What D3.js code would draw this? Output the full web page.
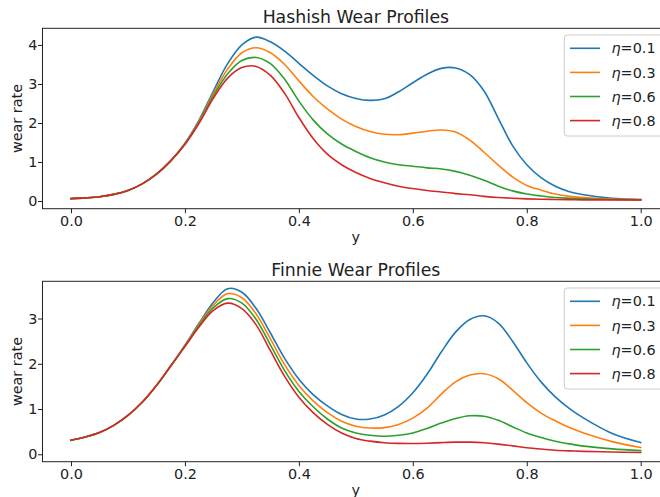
<!DOCTYPE html>
<html>
<head>
<meta charset="utf-8">
<script src="https://cdn.jsdelivr.net/npm/d3@7/dist/d3.min.js"></script>
<style>
  html, body { margin: 0; padding: 0; background: #fff; }
  svg { display: block; }
  text { font-family: "DejaVu Sans", sans-serif; fill: #222; }
</style>
</head>
<body>
<svg id="chart" width="660" height="497"></svg>
<script>
// Position along the profile
const ys = [0, 0.025, 0.05, 0.075, 0.1, 0.125, 0.15, 0.175, 0.2, 0.225, 0.25, 0.275,
  0.3, 0.325, 0.35, 0.375, 0.4, 0.425, 0.45, 0.475, 0.5, 0.525, 0.55, 0.575, 0.6,
  0.625, 0.65, 0.675, 0.7, 0.725, 0.75, 0.775, 0.8, 0.825, 0.85, 0.875, 0.9, 0.95, 1.0];

const etaLabels = ["0.1", "0.3", "0.6", "0.8"];
const colors = ["#1f77b4", "#ff7f0e", "#2ca02c", "#d62728"];
const xTicks = [0, 0.2, 0.4, 0.6, 0.8, 1.0];

// Hashish model wear rate, one array per eta
const hashish01 = [0.06, 0.08, 0.11, 0.17, 0.27, 0.44, 0.69, 1.03, 1.48, 2.08, 2.82, 3.52,
  4.00, 4.20, 4.08, 3.84, 3.53, 3.22, 2.95, 2.75, 2.63, 2.58, 2.62, 2.80, 3.03,
  3.25, 3.40, 3.41, 3.24, 2.82, 2.12, 1.42, 0.93, 0.60, 0.38, 0.24, 0.16, 0.07, 0.04];
const hashish03 = [0.06, 0.08, 0.11, 0.17, 0.27, 0.44, 0.69, 1.03, 1.47, 2.05, 2.76, 3.38,
  3.80, 3.93, 3.80, 3.50, 3.08, 2.68, 2.36, 2.10, 1.91, 1.78, 1.71, 1.70, 1.74,
  1.79, 1.82, 1.77, 1.56, 1.25, 0.92, 0.62, 0.40, 0.28, 0.18, 0.12, 0.09, 0.05, 0.035];
const hashish06 = [0.06, 0.08, 0.11, 0.17, 0.27, 0.44, 0.69, 1.03, 1.46, 2.02, 2.70, 3.26,
  3.60, 3.68, 3.52, 3.12, 2.56, 2.08, 1.72, 1.46, 1.27, 1.11, 1.00, 0.93, 0.89,
  0.85, 0.82, 0.76, 0.66, 0.53, 0.38, 0.26, 0.18, 0.13, 0.09, 0.07, 0.055, 0.04, 0.03];
const hashish08 = [0.06, 0.08, 0.11, 0.17, 0.27, 0.44, 0.69, 1.03, 1.45, 2.00, 2.64, 3.15,
  3.42, 3.45, 3.22, 2.76, 2.14, 1.60, 1.20, 0.93, 0.73, 0.58, 0.47, 0.38, 0.32,
  0.27, 0.23, 0.19, 0.16, 0.12, 0.09, 0.07, 0.055, 0.045, 0.04, 0.035, 0.03, 0.03, 0.025];

// Finnie model wear rate, one array per eta
const finnie01 = [0.31, 0.38, 0.48, 0.64, 0.86, 1.15, 1.52, 1.95, 2.41, 2.90, 3.36, 3.66,
  3.58, 3.22, 2.68, 2.12, 1.66, 1.32, 1.07, 0.88, 0.78, 0.78, 0.87, 1.06, 1.36,
  1.77, 2.26, 2.70, 2.98, 3.06, 2.90, 2.50, 2.02, 1.60, 1.27, 1.01, 0.80, 0.46, 0.26];
const finnie03 = [0.31, 0.38, 0.48, 0.64, 0.86, 1.15, 1.52, 1.95, 2.40, 2.88, 3.30, 3.55,
  3.46, 3.10, 2.55, 1.98, 1.52, 1.18, 0.92, 0.73, 0.62, 0.58, 0.59, 0.66, 0.80,
  1.02, 1.33, 1.60, 1.75, 1.78, 1.67, 1.42, 1.14, 0.91, 0.74, 0.59, 0.47, 0.28, 0.15];
const finnie06 = [0.31, 0.38, 0.48, 0.64, 0.86, 1.15, 1.52, 1.95, 2.39, 2.85, 3.24, 3.44,
  3.34, 2.98, 2.42, 1.85, 1.39, 1.05, 0.78, 0.58, 0.47, 0.42, 0.40, 0.42, 0.47,
  0.57, 0.69, 0.79, 0.85, 0.84, 0.75, 0.61, 0.47, 0.37, 0.29, 0.23, 0.18, 0.12, 0.08];
const finnie08 = [0.31, 0.38, 0.48, 0.64, 0.86, 1.15, 1.52, 1.95, 2.38, 2.82, 3.18, 3.34,
  3.22, 2.86, 2.29, 1.72, 1.26, 0.92, 0.66, 0.47, 0.35, 0.29, 0.255, 0.24, 0.238,
  0.245, 0.258, 0.268, 0.268, 0.255, 0.225, 0.185, 0.145, 0.115, 0.09, 0.075, 0.065, 0.05, 0.04];

const panels = [
  { title: "Hashish Wear Profiles", series: [hashish01, hashish03, hashish06, hashish08],
    yTicks: [0, 1, 2, 3, 4], yDomain: [-0.197, 4.427], top: 28.3, bottom: 208.7 },
  { title: "Finnie Wear Profiles", series: [finnie01, finnie03, finnie06, finnie08],
    yTicks: [0, 1, 2, 3], yDomain: [-0.164, 3.823], top: 281.3, bottom: 461.7 }
];

const svg = d3.select("#chart");
const FS = 14.4;
const left = 42.5, right = 669.2;
const x = d3.scaleLinear().domain([-0.05, 1.05]).range([left, right]);

panels.forEach(p => {
  const y = d3.scaleLinear().domain(p.yDomain).range([p.bottom, p.top]);
  const g = svg.append("g");

  // curves
  const line = d3.line()
    .x((d, i) => x(ys[i]))
    .y(d => y(d))
    .curve(d3.curveCatmullRom.alpha(0.5));
  p.series.forEach((s, k) => {
    g.append("path")
      .datum(s)
      .attr("d", line)
      .attr("fill", "none")
      .attr("stroke", colors[k])
      .attr("stroke-width", 1.6)
      .attr("stroke-linejoin", "round")
      .attr("stroke-linecap", "square");
  });

  // axes
  const xAxis = d3.axisBottom(x).tickValues(xTicks).tickFormat(d3.format(".1f"))
    .tickSize(4.5).tickPadding(2.7);
  const gx = g.append("g").attr("transform", `translate(0,${p.bottom})`).call(xAxis);
  const yAxis = d3.axisLeft(y).tickValues(p.yTicks).tickFormat(d3.format("d"))
    .tickSize(4.5).tickPadding(0.5);
  const gy = g.append("g").attr("transform", `translate(${left},0)`).call(yAxis);
  [gx, gy].forEach(a => {
    a.select(".domain").remove();
    a.selectAll(".tick line").attr("stroke", "#222").attr("stroke-width", 1);
    a.selectAll(".tick text").attr("font-size", FS).attr("font-family", "DejaVu Sans").attr("fill", "#222");
  });

  // frame
  g.append("rect")
    .attr("x", left).attr("y", p.top)
    .attr("width", right - left).attr("height", p.bottom - p.top)
    .attr("fill", "none").attr("stroke", "#222").attr("stroke-width", 1);

  // title and axis labels
  g.append("text")
    .attr("x", (left + right) / 2).attr("y", p.top - 5)
    .attr("text-anchor", "middle").attr("font-size", 17.3)
    .text(p.title);
  g.append("text")
    .attr("x", (left + right) / 2).attr("y", p.bottom + 32.8)
    .attr("text-anchor", "middle").attr("font-size", FS)
    .text("y");
  g.append("text")
    .attr("transform", `translate(21.7,${(p.top + p.bottom) / 2}) rotate(-90)`)
    .attr("text-anchor", "middle").attr("font-size", FS)
    .text("wear rate");

  // legend
  const lx = 564.3, ly = p.top + 6.7;
  const lg = g.append("g").attr("transform", `translate(${lx},${ly})`);
  lg.append("rect")
    .attr("x", 0).attr("y", 0).attr("width", 102).attr("height", 101)
    .attr("rx", 3).attr("ry", 3)
    .attr("fill", "#fff").attr("fill-opacity", 0.8)
    .attr("stroke", "#cccccc").attr("stroke-width", 1);
  etaLabels.forEach((lab, k) => {
    const cy = 13.3 + k * 24.1;
    lg.append("line")
      .attr("x1", 5.7).attr("x2", 35.7).attr("y1", cy).attr("y2", cy)
      .attr("stroke", colors[k]).attr("stroke-width", 1.6);
    const t = lg.append("text")
      .attr("x", 47.2).attr("y", cy).attr("dy", "0.36em")
      .attr("font-size", FS);
    t.append("tspan").attr("font-style", "italic").text("η");
    t.append("tspan").text("=" + lab);
  });
});
</script>
</body>
</html>
